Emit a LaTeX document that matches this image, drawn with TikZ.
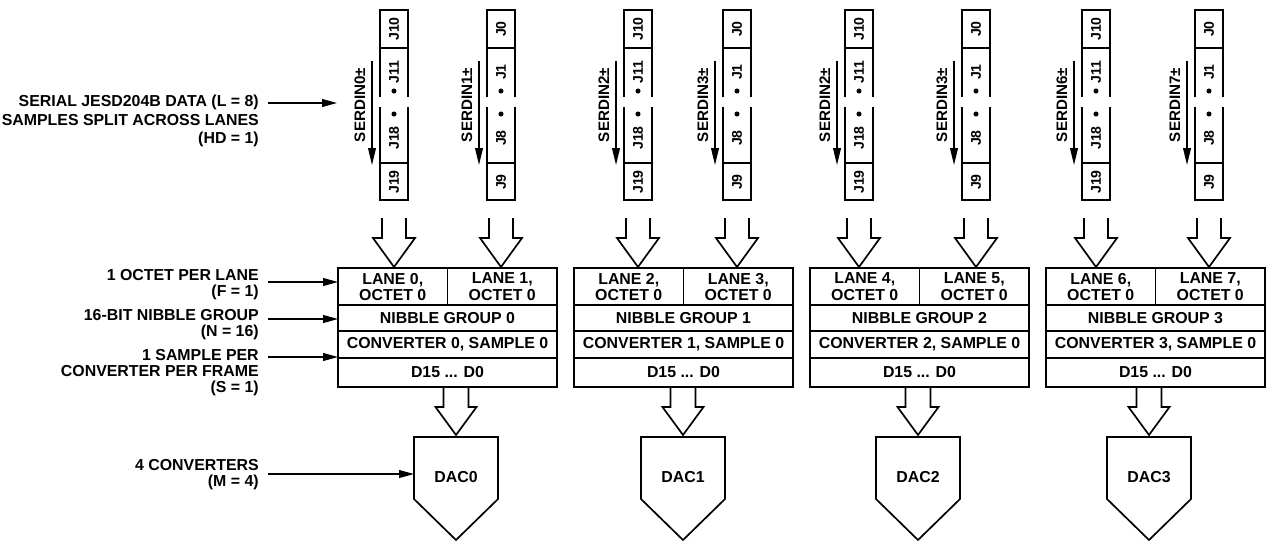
\documentclass[tikz,border=0pt]{standalone}
\usepackage{fontspec}
\setmainfont{Liberation Sans}
\usepackage{tikz}
\usetikzlibrary{arrows.meta}

\tikzset{
  box/.style={line width=1.2pt},
  txt/.style={font=\bfseries\fontsize{11.3}{12}\selectfont, inner sep=0pt, align=center},
  jtxt/.style={font=\bfseries\fontsize{10}{12}\selectfont, inner sep=0pt, rotate=90},
  lbl/.style={font=\bfseries\fontsize{11.3}{11.4}\selectfont, align=right, anchor=east, inner xsep=6.4pt, inner ysep=0pt},
  ptr/.style={-{Triangle[length=10.5pt,width=5.5pt]}, line width=1pt},
  serarr/.style={-{Triangle[length=12pt,width=5.5pt]}, line width=1pt},
}

\begin{document}
\begin{tikzpicture}[x=0.025cm, y=-0.025cm]
  \useasboundingbox (0,0) rectangle (1267,542);

  % Lanes serie (bandes J)
  \foreach \cx/\sd/\ja/\jb/\jc/\jd [count=\i] in {394/SERDIN0/J10/J11/J18/J19, 501/SERDIN1/J0/J1/J8/J9,
      638/SERDIN2/J10/J11/J18/J19, 737/SERDIN3/J0/J1/J8/J9,
      859/SERDIN2/J10/J11/J18/J19, 976/SERDIN3/J0/J1/J8/J9,
      1096/SERDIN6/J10/J11/J18/J19, 1209/SERDIN7/J0/J1/J8/J9} {
    \draw[box] (\cx-14,10) rectangle (\cx+14,48);
    \draw[box] (\cx-14,163) rectangle (\cx+14,200);
    \draw[box] (\cx-14,48) -- (\cx-14,97) (\cx-14,107) -- (\cx-14,163);
    \draw[box] (\cx+14,48) -- (\cx+14,97) (\cx+14,107) -- (\cx+14,163);
    \node[jtxt] (s\i-a) at (\cx,29) {\ja};
    \node[jtxt] (s\i-b) at (\cx,72) {\jb};
    \node[jtxt] (s\i-c) at (\cx,138) {\jc};
    \node[jtxt] (s\i-d) at (\cx,182) {\jd};
    \fill (\cx,91) circle[radius=1.8pt];
    \fill (\cx,114) circle[radius=1.8pt];
    % fleche SERDIN
    \coordinate (s\i-top) at (\cx-22,61);
    \coordinate (s\i-bot) at (\cx-22,165);
    \draw[serarr] (s\i-top) -- (s\i-bot);
    \node[txt, font=\bfseries\fontsize{10.8}{12}\selectfont, rotate=90] (serdin\i) at (\cx-34,105) {\sd±};
    % grosse fleche vers le bloc
    \draw[box] (\cx-12,218) -- (\cx-12,238) -- (\cx-21,238) -- (\cx,267) -- (\cx+21,238) -- (\cx+12,238) -- (\cx+12,218);
  }

  % Blocs et DAC
  \foreach \k/\dc in {0/456, 1/683, 2/918, 3/1149} {
    \pgfmathsetmacro\xa{338+236*\k}
    \pgfmathsetmacro\xb{\xa+219}
    \pgfmathsetmacro\xm{\xa+109.5}
    \pgfmathtruncatemacro\la{2*\k}
    \pgfmathtruncatemacro\lb{2*\k+1}
    \draw[box] (\xa,268) rectangle (\xb,387);
    \draw[box] (\xa,305) -- (\xb,305) (\xa,331) -- (\xb,331) (\xa,358) -- (\xb,358) (\xm,268) -- (\xm,305);
    \node[txt] (lane\la) at (\xa+54.75,287) {LANE \la,\\OCTET 0};
    \node[txt] (lane\lb) at (\xb-54.75,287) {LANE \lb,\\OCTET 0};
    \node[txt] (nib\k) at (\xm,318) {NIBBLE GROUP \k};
    \node[txt] (conv\k) at (\xm,344.5) {CONVERTER \k, SAMPLE 0};
    \node[txt] (bits\k) at (\xm,372.5) {D15 ... D0};
    % fleche vers le DAC
    \draw[box] (\dc-12.5,387) -- (\dc-12.5,407) -- (\dc-20.5,407) -- (\dc,435) -- (\dc+20.5,407) -- (\dc+12.5,407) -- (\dc+12.5,387);
    \draw[box] (\dc-42,437) -- (\dc+42,437) -- (\dc+42,499) -- (\dc,540) -- (\dc-42,499) -- cycle;
    \node[txt] (dac\k) at (\dc,477) {DAC\k};
  }

  % Legendes a gauche
  \node[lbl, font=\bfseries\fontsize{11.3}{13.2}\selectfont] (serial) at (268,121) {SERIAL JESD204B DATA (L = 8)\\SAMPLES SPLIT ACROSS LANES\\(HD = 1)};
  \node[lbl] (octet) at (268,285) {1 OCTET PER LANE\\(F = 1)};
  \node[lbl] (nibble) at (268,325) {16-BIT NIBBLE GROUP\\(N = 16)};
  \node[lbl] (sample) at (268,373) {1 SAMPLE PER\\CONVERTER PER FRAME\\(S = 1)};
  \node[lbl] (nconv) at (268,475) {4 CONVERTERS\\(M = 4)};

  \coordinate (serialin) at (337,103);
  \coordinate (octetin) at (338,282);
  \coordinate (nibblein) at (338,319);
  \coordinate (samplein) at (338,357);
  \coordinate (nconvin) at (414,474);
  \draw[ptr] (serial.east |- serialin) -- (serialin);
  \draw[ptr] (octet.east |- octetin) -- (octetin);
  \draw[ptr] (nibble.east |- nibblein) -- (nibblein);
  \draw[ptr] (sample.east |- samplein) -- (samplein);
  \draw[ptr] (nconv.east |- nconvin) -- (nconvin);
\end{tikzpicture}
\end{document}
